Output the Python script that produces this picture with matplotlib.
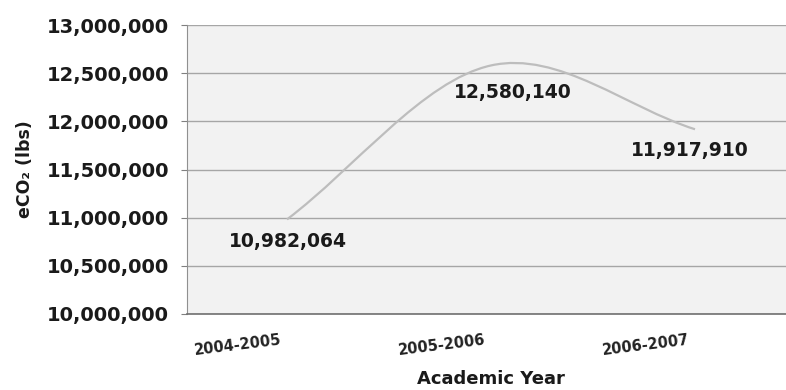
import matplotlib
matplotlib.use("Agg")
import matplotlib.pyplot as plt
import numpy as np
from matplotlib.path import Path
from matplotlib.patches import PathPatch
from matplotlib.ticker import FuncFormatter

categories = ["2004-2005", "2005-2006", "2006-2007"]
values = [10982064, 12580140, 11917910]
y_ticks = [10000000, 10500000, 11000000, 11500000, 12000000, 12500000, 13000000]

fig = plt.figure(figsize=(7.86, 3.9), dpi=100)
ax = fig.add_axes([187/786, 1 - 314/390, 1 - 187/786, (314 - 25)/390])
ax.set_facecolor("#f2f2f2")

x = np.arange(len(values), dtype=float)
y = np.array(values, dtype=float)

# Smoothed bezier curve through the points (Excel-like smoothing)
pts = np.column_stack([x, y])
n = len(pts)
tangents = []
for i in range(n):
    if i == 0:
        t = pts[1] - pts[0]
    elif i == n - 1:
        t = pts[-1] - pts[-2]
    else:
        t = (pts[i + 1] - pts[i - 1]) / 2
    tangents.append(t)
verts = [tuple(pts[0])]
codes = [Path.MOVETO]
for i in range(n - 1):
    c1 = pts[i] + tangents[i] / 3
    c2 = pts[i + 1] - tangents[i + 1] / 3
    verts += [tuple(c1), tuple(c2), tuple(pts[i + 1])]
    codes += [Path.CURVE4] * 3
ax.add_patch(PathPatch(Path(verts, codes), facecolor="none", edgecolor="#bdbdbd", lw=1.6, zorder=3))

label_offsets = [(1, -22), (22, -27), (-5, -21)]
for xi, yi, off in zip(x, y, label_offsets):
    ax.annotate(f"{int(yi):,}", (xi, yi), xytext=off, textcoords="offset pixels",
                ha="center", va="center", fontsize=13.5, fontweight="bold", color="#1a1a1a")

ax.set_xlim(-100/204, 2 + 91/204)
ax.set_ylim(10000000, 13000000)
ax.set_yticks(y_ticks)
ax.yaxis.set_major_formatter(FuncFormatter(lambda v, p: f"{int(v):,}"))
ax.grid(axis="y", color="#a6a6a6", lw=1)
ax.set_axisbelow(True)

ax.set_xticks(x - 0.24)
ax.set_xticklabels(categories, rotation=7, fontsize=10.5, fontweight="bold", color="#222222")
ax.tick_params(axis="x", length=0, pad=13)
ax.tick_params(axis="y", length=4, pad=9, color="#808080", labelsize=14)
for lab in ax.get_yticklabels():
    lab.set_fontweight("bold")
    lab.set_color("#1a1a1a")

for s in ["top", "right"]:
    ax.spines[s].set_visible(False)
ax.spines["left"].set_color("#909090")
ax.spines["bottom"].set_color("#707070")
ax.spines["bottom"].set_linewidth(1.2)

fig.text(491/786, 1 - 379/390, "Academic Year", ha="center", va="center",
         fontsize=13, fontweight="bold", color="#1a1a1a")
fig.text(25/786, 1 - 169/390, "eCO\u2082 (lbs)", rotation=90, ha="center", va="center",
         fontsize=12.5, fontweight="bold", color="#1a1a1a")

fig.savefig("out.png", dpi=100)
